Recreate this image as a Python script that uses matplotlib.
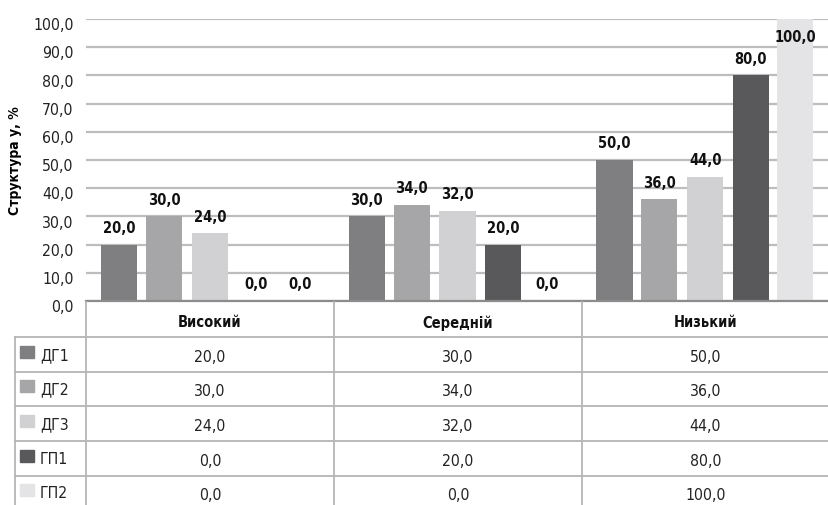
import matplotlib
matplotlib.use("Agg")
import matplotlib.pyplot as plt
import matplotlib.transforms as mtransforms
from matplotlib.patches import Rectangle
import numpy as np

plt.rcParams['font.family'] = ['DejaVu Sans']
plt.rcParams['font.stretch'] = 'condensed'

categories = ["Високий", "Середній", "Низький"]
series_names = ["ДГ1", "ДГ2", "ДГ3", "ГП1", "ГП2"]
values = {
    "ДГ1": [20.0, 30.0, 50.0],
    "ДГ2": [30.0, 34.0, 36.0],
    "ДГ3": [24.0, 32.0, 44.0],
    "ГП1": [0.0, 20.0, 80.0],
    "ГП2": [0.0, 0.0, 100.0],
}
colors = ["#7f7f81", "#a6a6a8", "#d1d1d3", "#59595b", "#e4e4e6"]
yticks = np.arange(0, 101, 10)
y_label = "Структура у, %"

W, H = 829, 506
fig = plt.figure(figsize=(W / 100, H / 100), dpi=100)

def fx(px):
    return px / W

def fy(py):
    return 1 - py / H

left_px, right_px, top_px, bot_px = 86, 829, 20, 302
ax = fig.add_axes([fx(left_px), fy(bot_px), fx(right_px - left_px), fy(top_px) - fy(bot_px)])

fmt = lambda v: f"{v:.1f}".replace(".", ",")
FS = 11.3   # regular text
FB = 10.5   # bold text

offsets = np.array([-0.366, -0.185, 0.0, 0.185, 0.363])
bw = 0.146
x = np.arange(len(categories))
for i, name in enumerate(series_names):
    vals = values[name]
    ax.bar(x + offsets[i], vals, width=bw, color=colors[i], zorder=3)
    for xi, v in zip(x + offsets[i], vals):
        if v >= 95:
            ax.annotate(fmt(v), (xi, v), xytext=(0, -7), textcoords="offset points",
                        ha="center", va="top", fontsize=FB, fontweight="bold",
                        color="#111111", zorder=4)
        else:
            ax.annotate(fmt(v), (xi, v), xytext=(0, 7), textcoords="offset points",
                        ha="center", va="bottom", fontsize=FB, fontweight="bold",
                        color="#111111", zorder=4)

ax.set_xlim(-0.5, len(categories) - 0.5)
ax.set_ylim(0, 100)
ax.set_yticks(yticks)
ax.set_yticklabels([fmt(t) for t in yticks], fontsize=FS, color="#222222")
ax.tick_params(axis="y", length=0, pad=9)
shift = mtransforms.ScaledTranslation(0, -3 / 72, fig.dpi_scale_trans)
for lab in ax.get_yticklabels():
    lab.set_transform(lab.get_transform() + shift)
ax.set_xticks([])
ax.yaxis.grid(True, color="#bdbdbd", linewidth=1.6, zorder=0)
for s in ["top", "right", "left"]:
    ax.spines[s].set_visible(False)
ax.spines["bottom"].set_color("#8c8c8c")
ax.spines["bottom"].set_linewidth(1.6)
ax.spines["bottom"].set_zorder(5)
ax.set_ylabel(y_label, fontsize=10, fontweight="bold")
ax.yaxis.set_label_coords(-0.086, 0.5)

# table below
tab = fig.add_axes([0, 0, 1, fy(bot_px)])
tab.set_xlim(0, W)
tab.set_ylim(H, bot_px)
tab.axis("off")
line_c = "#b5b5b5"
col_edges = [86, 334, 582, 829]
row_edges = [302, 338, 373, 407, 442, 477, 512]
tab_left = 15
tab.plot([86, 86], [302, H], color=line_c, lw=1.3)
tab.plot([334, 334], [302, H], color=line_c, lw=1.3)
tab.plot([582, 582], [302, H], color=line_c, lw=1.3)
tab.plot([tab_left, tab_left], [338, H], color=line_c, lw=1.3)
for ry in row_edges[1:-1]:
    tab.plot([tab_left, W], [ry, ry], color=line_c, lw=1.3)
for j, c in enumerate(categories):
    cx = (col_edges[j] + col_edges[j + 1]) / 2
    tab.text(cx, (row_edges[0] + row_edges[1]) / 2 + 3, c, ha="center", va="center",
             fontsize=FB, fontweight="bold", color="#111111")
for i, name in enumerate(series_names):
    ry0, ry1 = row_edges[i + 1], row_edges[i + 2]
    cy = (ry0 + ry1) / 2
    if i == len(series_names) - 1:
        cy = ry0 + 17
    tab.add_patch(Rectangle((20, cy - 9), 14, 12, color=colors[i]))
    tab.text(40, cy, name, ha="left", va="center", fontsize=FS, color="#222222")
    for j in range(len(categories)):
        cx = (col_edges[j] + col_edges[j + 1]) / 2
        tab.text(cx, cy + 2, fmt(values[name][j]), ha="center", va="center",
                 fontsize=FS, color="#222222")

fig.savefig("out.png", dpi=100)
